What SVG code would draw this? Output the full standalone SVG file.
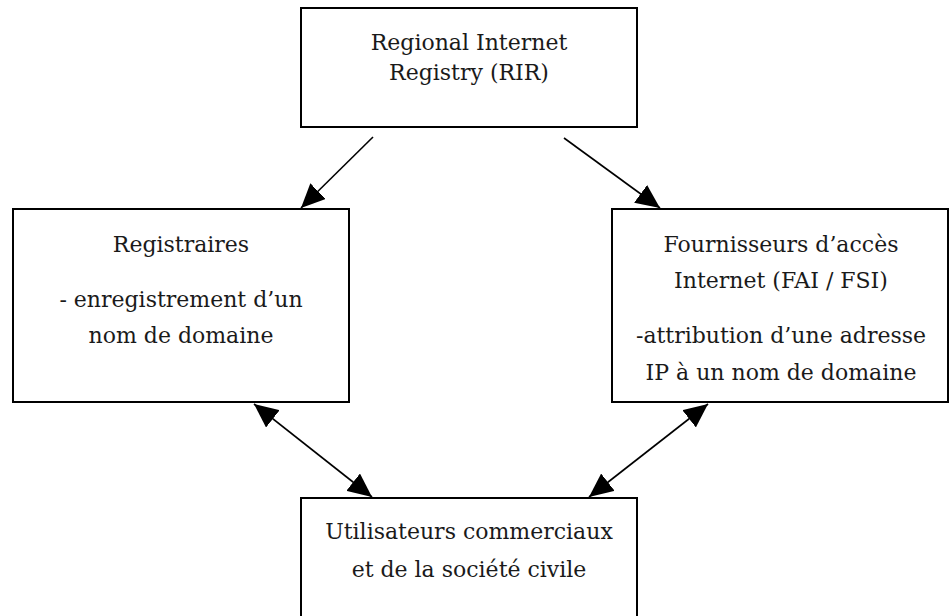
<svg xmlns="http://www.w3.org/2000/svg" width="950" height="616" viewBox="0 0 950 616">
  <style>
    .box { fill: #ffffff; stroke: #000000; stroke-width: 2; }
    .link { stroke: #000000; stroke-width: 1.6; fill: none; }
  </style>
  <defs>
    <marker id="head" viewBox="0 0 24 22" refX="24" refY="11" markerWidth="24" markerHeight="22" markerUnits="userSpaceOnUse" orient="auto-start-reverse">
      <path d="M0,0 L24,11 L0,22 z" fill="#000000"/>
    </marker>
  </defs>
  <rect width="950" height="616" fill="#ffffff"/>

  <g font-family="DejaVu Serif, serif" font-size="22" fill="#1a1a1a" text-anchor="middle">
    <g id="rir">
      <rect class="box" x="301" y="8" width="336" height="119"/>
      <text x="469" y="50">Regional Internet</text>
      <text x="469" y="80">Registry (RIR)</text>
    </g>

    <g id="registraires">
      <rect class="box" x="13" y="209" width="336" height="193"/>
      <text x="181" y="252">Registraires</text>
      <text x="181" y="307">- enregistrement d’un</text>
      <text x="181" y="343">nom de domaine</text>
    </g>

    <g id="fai">
      <rect class="box" x="612" y="209" width="336" height="193"/>
      <text x="781" y="252">Fournisseurs d’accès</text>
      <text x="781" y="288">Internet (FAI / FSI)</text>
      <text x="781" y="343">-attribution d’une adresse</text>
      <text x="781" y="380">IP à un nom de domaine</text>
    </g>

    <g id="utilisateurs">
      <rect class="box" x="301" y="498" width="336" height="130"/>
      <text x="469" y="539">Utilisateurs commerciaux</text>
      <text x="469" y="577">et de la société civile</text>
    </g>
  </g>

  <g id="connectors">
    <line class="link" x1="373" y1="137" x2="301" y2="208" marker-end="url(#head)"/>
    <line class="link" x1="564" y1="138" x2="660" y2="208" marker-end="url(#head)"/>
    <line class="link" x1="254" y1="404" x2="372" y2="497" marker-start="url(#head)" marker-end="url(#head)"/>
    <line class="link" x1="708" y1="404" x2="589" y2="497" marker-start="url(#head)" marker-end="url(#head)"/>
  </g>
</svg>
